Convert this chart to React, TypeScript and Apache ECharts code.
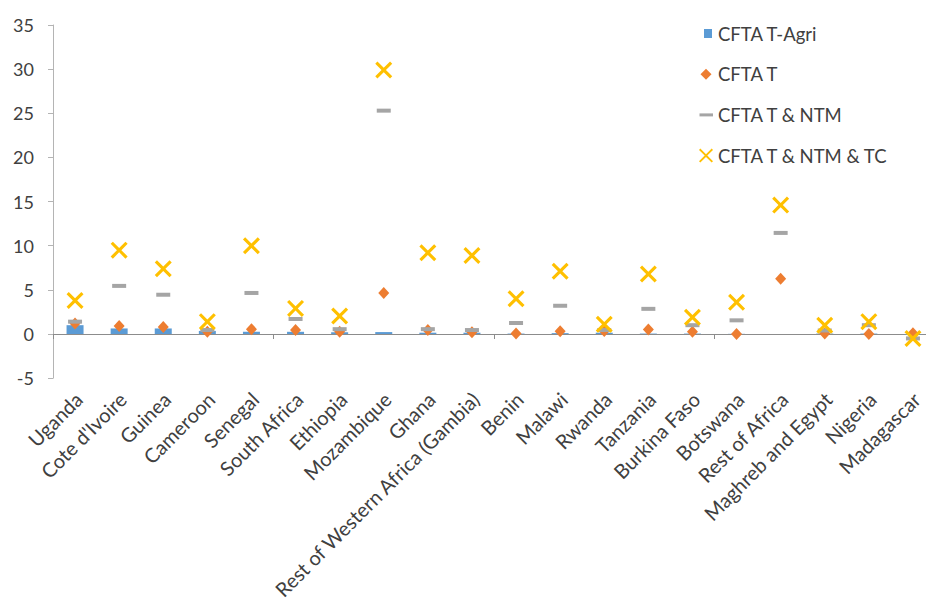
import React, { useEffect, useRef } from "react";
import * as echarts from "echarts";

// Regions along the category axis
const categories = [
  "Uganda",
  "Cote d'Ivoire",
  "Guinea",
  "Cameroon",
  "Senegal",
  "South Africa",
  "Ethiopia",
  "Mozambique",
  "Ghana",
  "Rest of Western Africa (Gambia)",
  "Benin",
  "Malawi",
  "Rwanda",
  "Tanzania",
  "Burkina Faso",
  "Botswana",
  "Rest of Africa",
  "Maghreb and Egypt",
  "Nigeria",
  "Madagascar",
];

// Scenario results per region
const cftaTAgri = [1.0, 0.63, 0.63, 0.35, 0.25, 0.25, 0.2, 0.22, 0.15, 0.15, 0.05, 0.1, 0.15, 0.05, 0.05, 0.02, 0, 0.05, 0.05, -0.05];
const cftaT = [1.2, 0.9, 0.8, 0.25, 0.55, 0.45, 0.25, 4.65, 0.45, 0.2, 0.05, 0.3, 0.35, 0.5, 0.25, 0.0, 6.25, 0.05, 0.0, 0.1];
const cftaTNtm = [1.4, 5.45, 4.45, 0.45, 4.65, 1.7, 0.55, 25.3, 0.55, 0.45, 1.25, 3.2, 0.45, 2.85, 1.0, 1.55, 11.45, 0.4, 1.0, -0.5];
const cftaTNtmTc = [3.8, 9.5, 7.4, 1.4, 10.0, 2.9, 2.05, 29.9, 9.2, 8.9, 4.0, 7.1, 1.1, 6.8, 1.9, 3.6, 14.6, 1.0, 1.4, -0.5];

// Value axis ticks
const yMin = -5;
const yMax = 35;
const yStep = 5;

const seriesNames = ["CFTA T-Agri", "CFTA T", "CFTA T & NTM", "CFTA T & NTM & TC"];

const BLUE = "#5B9BD5";
const ORANGE = "#ED7D31";
const GREY = "#A5A5A5";
const GOLD = "#FFC000";
const TEXT = "#404040";
const X_AXIS = "#8c8c8c";
const Y_AXIS = "#b4b4b4";
const FONT = "Lato, 'Open Sans', sans-serif";

// The plot runs a little past the right edge of the page
const CHART_W = 944;
const CHART_H = 603;

// Cross marker drawn as a filled outline
const CROSS =
  "path://M0,1.3L1.3,0L5,3.7L8.7,0L10,1.3L6.3,5L10,8.7L8.7,10L5,6.3L1.3,10L0,8.7L3.7,5Z";

// Legend icons share one 15x14 box (corner move-tos fix the box size)
const BOX = "M0,0M15,14";
const LEG_SQUARE = `path://${BOX}M6,2.5H14V11.5H6Z`;
const LEG_DIAMOND = `path://${BOX}M8,1.5L13.5,7L8,12.5L2.5,7Z`;
const LEG_DASH = `path://${BOX}M1.5,5.5H15V8.5H1.5Z`;
const LEG_CROSS = `path://${BOX}M1,1.3L2.3,0L8,5.7L13.7,0L15,1.3L9.3,7L15,12.7L13.7,14L8,8.3L2.3,14L1,12.7L6.7,7Z`;

export default function App() {
  const ref = useRef<HTMLDivElement>(null);

  useEffect(() => {
    if (!ref.current) return;
    document.documentElement.style.overflow = "hidden";
    document.body.style.overflow = "hidden";
    const chart = echarts.init(ref.current, null, { renderer: "svg" });

    chart.setOption({
      animation: false,
      backgroundColor: "#ffffff",
      textStyle: { fontFamily: FONT },
      grid: { left: 53, right: CHART_W - 935, top: 25, bottom: 221 },
      legend: {
        orient: "vertical",
        left: 698,
        top: 24,
        padding: 0,
        itemWidth: 15,
        itemHeight: 14,
        itemGap: 21.7,
        textStyle: { fontFamily: FONT, fontSize: 18.5, lineHeight: 19, color: TEXT },
        data: [
          { name: seriesNames[0], icon: LEG_SQUARE },
          { name: seriesNames[1], icon: LEG_DIAMOND },
          { name: seriesNames[2], icon: LEG_DASH },
          { name: seriesNames[3], icon: LEG_CROSS },
        ],
      },
      xAxis: [
        {
          type: "category",
          data: categories,
          position: "bottom",
          axisLine: { show: true, onZero: true, lineStyle: { color: X_AXIS, width: 1 } },
          axisTick: { show: true, length: 5, lineStyle: { color: X_AXIS } },
          axisLabel: { show: false },
          splitLine: { show: false },
        },
        {
          type: "category",
          data: categories,
          position: "bottom",
          axisLine: { show: false, onZero: false },
          axisTick: { show: false },
          splitLine: { show: false },
          axisLabel: {
            interval: 0,
            rotate: 45,
            margin: 21,
            padding: [12, -5, 0, 0],
            fontFamily: FONT,
            fontSize: 20,
            color: TEXT,
          },
        },
      ],
      yAxis: {
        type: "value",
        min: yMin,
        max: yMax,
        interval: yStep,
        axisLine: { show: true, lineStyle: { color: Y_AXIS, width: 1 } },
        axisTick: { show: true, length: 5, lineStyle: { color: Y_AXIS } },
        splitLine: { show: false },
        axisLabel: { margin: 19, fontFamily: FONT, fontSize: 18, color: TEXT },
      },
      series: [
        {
          name: seriesNames[0],
          type: "bar",
          xAxisIndex: 0,
          barWidth: 17,
          itemStyle: { color: BLUE },
          data: cftaTAgri,
        },
        {
          name: seriesNames[1],
          type: "scatter",
          xAxisIndex: 0,
          symbol: "diamond",
          symbolSize: [11, 12],
          itemStyle: { color: ORANGE, opacity: 1 },
          data: cftaT,
        },
        {
          name: seriesNames[2],
          type: "scatter",
          xAxisIndex: 0,
          symbol: "rect",
          symbolSize: [14, 4],
          itemStyle: { color: GREY, opacity: 1 },
          data: cftaTNtm,
        },
        {
          name: seriesNames[3],
          type: "scatter",
          xAxisIndex: 0,
          symbol: CROSS,
          symbolSize: 17,
          itemStyle: { color: GOLD, opacity: 1 },
          data: cftaTNtmTc,
        },
      ],
    });

    return () => chart.dispose();
  }, []);

  return (
    <div
      ref={ref}
      style={{ position: "fixed", left: 0, top: 0, width: CHART_W, height: CHART_H, background: "#fff" }}
    />
  );
}
